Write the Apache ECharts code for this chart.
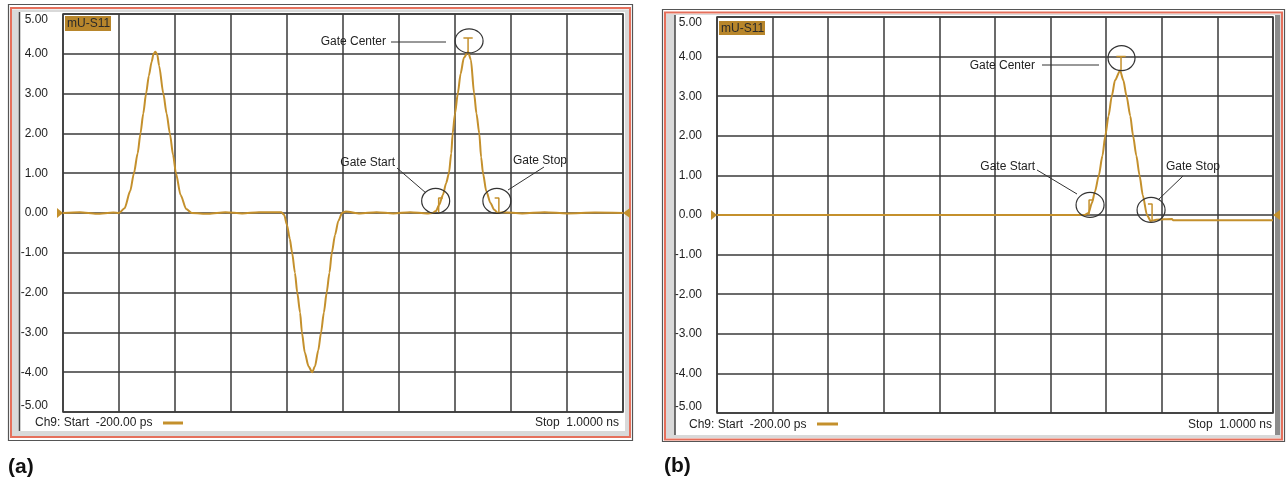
<!DOCTYPE html>
<html>
<head>
<meta charset="utf-8">
<script src="https://cdn.jsdelivr.net/npm/echarts@6/dist/echarts.min.js"></script>
<style>
  html, body { margin: 0; padding: 0; background: #fff; }
  #chart { width: 1286px; height: 482px; }
</style>
</head>
<body>
<div id="chart"></div>
<script>
// time in ps counted from sweep start (-200 ps), 120 ps per division
var timeA = [0, 36, 72, 108, 120, 132, 144, 152, 160, 166, 172, 178, 184, 190, 194, 198, 202, 206, 215, 222, 229, 236, 242, 252,
  264, 276, 312, 348, 384, 420, 468, 474, 480, 486, 491, 497, 502, 508, 512, 518, 526, 534, 540, 547, 553, 559, 565, 571, 576, 583,
  590, 598, 606, 636, 672, 708, 744, 780, 792, 799, 806, 814, 821, 827, 832, 835, 840, 846, 852, 859, 868, 874, 881, 886, 892, 896,
  900, 907, 916, 924, 932, 942, 984, 1032, 1080, 1140, 1200]
var valueA = [0, 0.02, -0.02, 0.01, 0, 0.12, 0.55, 1.0, 1.5, 2.0, 2.5, 3.0, 3.45, 3.8, 4.0, 4.05, 3.98, 3.7, 3.0, 2.5, 2.0, 1.45, 1.0, 0.45,
  0.1, 0, -0.02, 0.02, -0.01, 0.02, 0.02, -0.05, -0.3, -0.65, -1.0, -1.5, -2.0, -2.5, -3.0, -3.5, -3.85, -4.0, -3.85, -3.45, -3.0, -2.5, -2.0, -1.5, -1.0, -0.55,
  -0.2, 0, 0.04, -0.01, 0.02, -0.01, 0.02, -0.01, 0, 0.05, 0.2, 0.45, 0.75, 1.0, 1.5, 2.0, 2.5, 3.0, 3.5, 3.9, 4.05, 3.85, 3.0, 2.5, 2.0, 1.4,
  1.0, 0.55, 0.25, 0.08, 0, 0.02, -0.01, 0.02, -0.01, 0.01, 0]

var timeB = [0, 360, 792, 802, 809, 816, 824, 832, 838, 845, 852, 859, 870, 877, 884, 892, 898, 905, 912, 919, 928, 936, 948, 982, 984, 1200]
var valueB = [0, 0, 0, 0.05, 0.3, 0.6, 1.0, 1.5, 2.0, 2.5, 3.0, 3.4, 3.65, 3.4, 3.0, 2.5, 2.0, 1.5, 1.0, 0.5, 0, -0.15, -0.12, -0.1, -0.13, -0.13]

// gate markers: [time, top, bottom]
var gateStartA = [805, 0.38, 0]
var gateCenterA = [868, 4.4, 4.05]
var gateStopA = [934, 0.38, 0]
var gateStartB = [803, 0.38, 0]
var gateCenterB = [872, 4.0, 3.65]
var gateStopB = [939, 0.28, -0.13]

var traceColor = '#c4902c'
var gridColor = '#3a3a3a'
var font = '"Liberation Sans", Arial, sans-serif'

function pairs(xs, ys) {
  return xs.map(function (x, i) { return [x, ys[i]] })
}

var chart = echarts.init(document.getElementById('chart'))

function axesX(i) {
  return {
    gridIndex: i,
    type: 'value',
    min: 0,
    max: 1200,
    interval: 120,
    axisLine: { show: false },
    axisTick: { show: false },
    axisLabel: { show: false },
    splitLine: { show: true, lineStyle: { color: gridColor, width: 1.5 } }
  }
}

function axesY(i) {
  return {
    gridIndex: i,
    type: 'value',
    min: -5,
    max: 5,
    interval: 1,
    axisLine: { show: false, onZero: false },
    axisTick: { show: false },
    axisLabel: {
      show: true,
      margin: 15,
      color: '#1e1e1e',
      fontSize: 12,
      fontFamily: font,
      verticalAlignMaxLabel: 'top',
      verticalAlignMinLabel: 'bottom',
      formatter: function (v) { return v.toFixed(2) }
    },
    splitLine: { show: true, lineStyle: { color: gridColor, width: 1.5 } }
  }
}

function lineSeries(i, data, width, smooth) {
  return {
    type: 'line',
    xAxisIndex: i,
    yAxisIndex: i,
    data: data,
    symbol: 'none',
    silent: true,
    smooth: smooth || false,
    smoothMonotone: 'x',
    z: 3,
    lineStyle: { color: traceColor, width: width }
  }
}

// small flags: start flag points right, stop flag points left
function startFlag(g) { return [[g[0] + 9, g[1]], [g[0], g[1]], [g[0], g[2]]] }
function stopFlag(g) { return [[g[0] - 9, g[1]], [g[0], g[1]], [g[0], g[2]]] }
function centerT(g) { return [[g[0] - 10, g[1]], [g[0] + 10, g[1]], null, [g[0], g[1]], [g[0], g[2]]] }

var option = {
  animation: false,
  backgroundColor: 'transparent',
  grid: [
    { left: 63, top: 14, width: 560, height: 398, show: true, borderColor: gridColor, borderWidth: 1.5 },
    { left: 717, top: 17, width: 556, height: 396, show: true, borderColor: gridColor, borderWidth: 1.5 }
  ],
  xAxis: [axesX(0), axesX(1)],
  yAxis: [axesY(0), axesY(1)],
  series: [
    lineSeries(0, pairs(timeA, valueA), 2, 0.25),
    lineSeries(0, startFlag(gateStartA), 1.5),
    lineSeries(0, centerT(gateCenterA), 1.5),
    lineSeries(0, stopFlag(gateStopA), 1.5),
    lineSeries(1, pairs(timeB, valueB), 2, 0.25),
    lineSeries(1, startFlag(gateStartB), 1.5),
    lineSeries(1, centerT(gateCenterB), 1.5),
    lineSeries(1, stopFlag(gateStopB), 1.5)
  ]
}
chart.setOption(option)

function px(i, t, v) {
  return chart.convertToPixel({ gridIndex: i }, [t, v])
}

function txt(x, y, s, align, extra) {
  return {
    type: 'text',
    z: 10,
    style: Object.assign({
      text: s, x: x, y: y, fill: '#222', font: '12px ' + font,
      textAlign: align || 'left', textVerticalAlign: 'middle'
    }, extra || {})
  }
}

function seg(x1, y1, x2, y2, color, w) {
  return {
    type: 'line',
    z: 10,
    shape: { x1: x1, y1: y1, x2: x2, y2: y2 },
    style: { stroke: color || '#333', lineWidth: w || 1 }
  }
}

function ring(p, dx, dy, rx, ry) {
  return {
    type: 'ellipse',
    z: 10,
    shape: { cx: p[0] + dx, cy: p[1] + dy, rx: rx, ry: ry },
    style: { stroke: '#333', fill: 'none', lineWidth: 1.2 }
  }
}

function arrowRight(p) {
  return { type: 'polygon', z: 10, shape: { points: [[p[0] - 6, p[1] - 5], [p[0], p[1]], [p[0] - 6, p[1] + 5]] }, style: { fill: traceColor } }
}
function arrowLeft(p) {
  return { type: 'polygon', z: 10, shape: { points: [[p[0] + 7, p[1] - 5], [p[0], p[1]], [p[0] + 7, p[1] + 5]] }, style: { fill: traceColor } }
}

function rect(x, y, w, h, style, z) {
  return { type: 'rect', z: z, shape: { x: x, y: y, width: w, height: h }, style: style }
}

var g = []

// panel frames
g.push(rect(12, 9.5, 617, 427, { fill: '#d9d9d9' }, -3))
g.push(rect(19, 12, 606, 419, { fill: '#fff' }, -2))
g.push(rect(8.5, 4.5, 624, 436, { fill: 'none', stroke: '#555', lineWidth: 1.2 }, 1))
g.push(rect(11, 8, 619, 429, { fill: 'none', stroke: '#e5705c', lineWidth: 2 }, 1))
g.push(seg(19.5, 12, 19.5, 431, '#444', 1.5))

g.push(rect(666, 14, 615, 424, { fill: '#d9d9d9' }, -3))
g.push(rect(1275, 15, 5, 420, { fill: '#8c8c8c' }, -2))
g.push(rect(675, 15, 600, 420, { fill: '#fff' }, -2))
g.push(rect(662.5, 9.5, 622, 432, { fill: 'none', stroke: '#555', lineWidth: 1.2 }, 1))
g.push(rect(665, 12.5, 617, 427, { fill: 'none', stroke: '#e5705c', lineWidth: 2 }, 1))
g.push(seg(675, 15, 675, 435, '#444', 1.5))

// trace tags
g.push(rect(65, 16, 46, 15, { fill: '#b8862b' }, 9))
g.push(txt(67, 24, 'mU-S11', 'left', { fill: '#2a2a2a' }))
g.push(rect(719, 21, 46, 14, { fill: '#b8862b' }, 9))
g.push(txt(721, 28.5, 'mU-S11', 'left', { fill: '#2a2a2a' }))

// reference level arrows
g.push(arrowRight(px(0, 0, 0)))
g.push(arrowLeft(px(0, 1200, 0)))
g.push(arrowRight(px(1, 0, 0)))
g.push(arrowLeft(px(1, 1200, 0)))

// gate rings
g.push(ring(px(0, gateStartA[0], gateStartA[1]), -3, 3, 14, 12.5))
g.push(ring(px(0, gateStopA[0], gateStopA[1]), -2, 3, 14, 12.5))
g.push(ring(px(0, gateCenterA[0], gateCenterA[1]), 1, 3, 14, 12))
g.push(ring(px(1, gateStartB[0], gateStartB[1]), 1, 5, 14, 12.5))
g.push(ring(px(1, gateStopB[0], gateStopB[1]), -1, 6, 14, 12.5))
g.push(ring(px(1, gateCenterB[0], gateCenterB[1]), 0.5, 1.5, 13.5, 12.5))

// gate labels (a)
g.push(txt(386, 42, 'Gate Center', 'right'))
g.push(seg(391, 42, 446, 42))
g.push(txt(395, 163, 'Gate Start', 'right'))
g.push(seg(397, 168, 426, 193))
g.push(txt(513, 161, 'Gate Stop', 'left'))
g.push(seg(544, 167, 508, 190))

// gate labels (b)
g.push(txt(1035, 66, 'Gate Center', 'right'))
g.push(seg(1042, 65, 1099, 65))
g.push(txt(1035, 167, 'Gate Start', 'right'))
g.push(seg(1037, 170, 1077, 194))
g.push(txt(1166, 167, 'Gate Stop', 'left'))
g.push(seg(1183, 176, 1158, 200))

// status lines
g.push(txt(35, 423, 'Ch9: Start  -200.00 ps', 'left'))
g.push(seg(163, 423, 183, 423, traceColor, 3))
g.push(txt(619, 423, 'Stop  1.0000 ns', 'right'))
g.push(txt(689, 425, 'Ch9: Start  -200.00 ps', 'left'))
g.push(seg(817, 424, 838, 424, traceColor, 3))
g.push(txt(1272, 425, 'Stop  1.0000 ns', 'right'))

// panel captions
g.push(txt(8, 467, '(a)', 'left', { fill: '#111', font: 'bold 21px "Liberation Sans Narrow", ' + font }))
g.push(txt(664, 466, '(b)', 'left', { fill: '#111', font: 'bold 21px "Liberation Sans Narrow", ' + font }))

chart.setOption({ graphic: { elements: g } })
</script>
</body>
</html>
